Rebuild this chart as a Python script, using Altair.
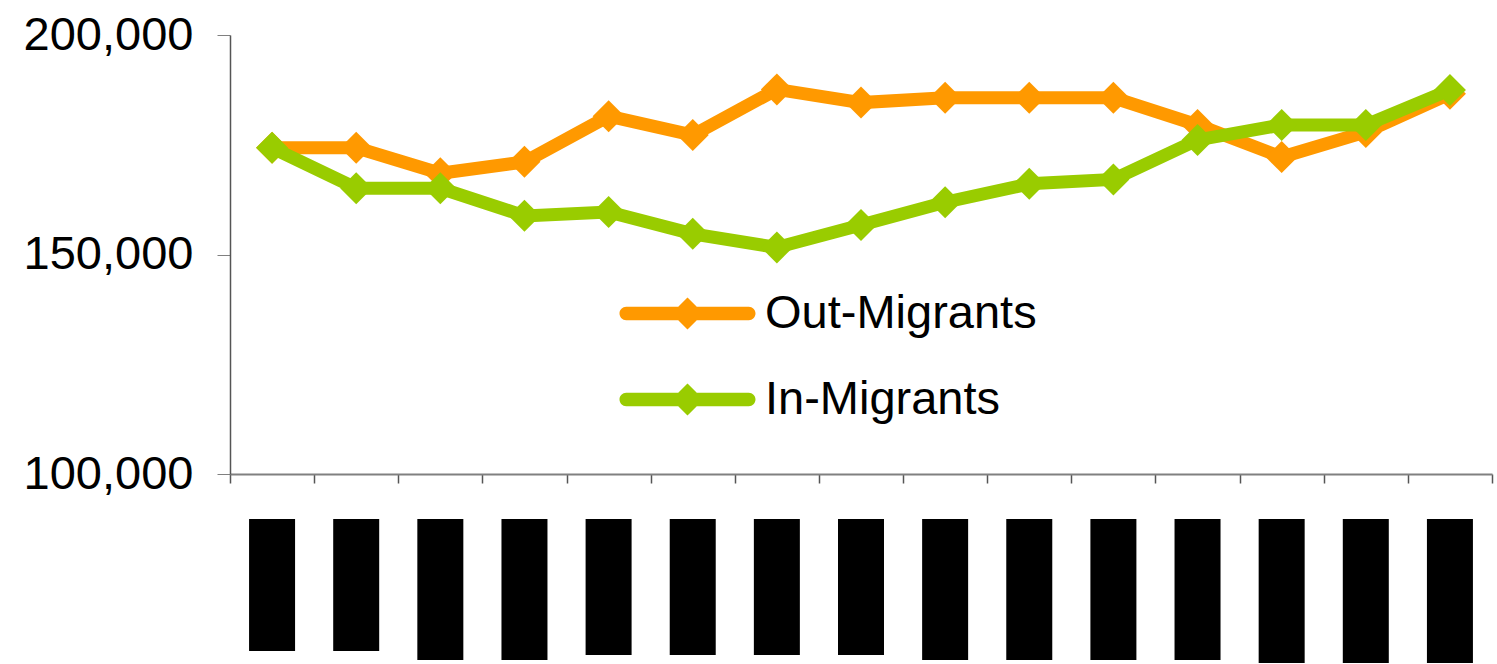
import altair as alt
import pandas as pd

# Migration totals per period (15 periods, oldest first)
periods = list(range(1, 16))
series_names = ["Out-Migrants", "In-Migrants"]
series_colors = ["#FF9900", "#99CC00"]
out_migrants = [174300, 174300, 168500, 171100, 181500, 177200, 187600, 184600,
                185700, 185700, 185700, 179500, 172200, 177900, 186600]
in_migrants = [174300, 165100, 165100, 158800, 159700, 154700, 151600, 156700,
               161900, 166100, 167100, 176100, 179500, 179500, 187500]
# lengths of the blacked-out period labels under the axis
label_block_len = [132, 132, 141, 141, 136, 136, 136, 136,
                   141, 141, 141, 141, 144, 144, 144]

rows = []
for name, vals in zip(series_names, [out_migrants, in_migrants]):
    for p, v in zip(periods, vals):
        rows.append({"period": p, "series": name, "people": v})
df = pd.DataFrame(rows)
blocks = pd.DataFrame({"period": periods, "block_len": label_block_len})

FONT = "Liberation Sans"

# legend swatch: thick round-capped line with a diamond in the middle
SWATCH = ("M-3.83,-0.42 L-0.58,-0.42 L0,-1 L0.58,-0.42 L3.83,-0.42 "
          "A0.42,0.42 0 0 1 3.83,0.42 L0.58,0.42 L0,1 L-0.58,0.42 "
          "L-3.83,0.42 A0.42,0.42 0 0 1 -3.83,-0.42 Z")

x_enc = alt.X(
    "period:O",
    scale=alt.Scale(type="band", paddingInner=0, paddingOuter=0),
    axis=alt.Axis(labels=False, title=None, tickBand="extent", tickSize=9,
                  domainColor="#808080", domainWidth=2, tickColor="#555555",
                  tickWidth=1.5, grid=False),
)
y_enc = alt.Y(
    "people:Q",
    scale=alt.Scale(domain=[100000, 200000], nice=False, zero=False),
    axis=alt.Axis(values=[100000, 150000, 200000], format=",d", title=None,
                  labelFontSize=47, labelFont=FONT, labelColor="black",
                  tickSize=13, tickColor="#808080", labelPadding=24,
                  domainColor="#555555", domainWidth=1.5, grid=False),
)
color_scale = alt.Scale(domain=series_names, range=series_colors)
legend = alt.Legend(
    title=None, orient="none", legendX=382, legendY=255, padding=0,
    symbolType=SWATCH, symbolSize=1024, symbolStrokeWidth=0,
    symbolOffset=52, labelOffset=54, labelFontSize=47, labelFont=FONT,
    labelColor="black", labelLimit=0, rowPadding=38, symbolOpacity=1,
)


def series_layers(name, color):
    base = alt.Chart(df).transform_filter(alt.datum.series == name)
    line = base.mark_line(strokeWidth=13, color=color).encode(x=x_enc, y=y_enc)
    pts = base.mark_point(shape="diamond", size=1024, filled=True, opacity=1).encode(
        x=x_enc, y=y_enc,
        color=alt.Color("series:N", scale=color_scale, legend=legend),
    )
    return [line, pts]


lines = alt.layer(
    *series_layers(series_names[0], series_colors[0]),
    *series_layers(series_names[1], series_colors[1]),
)

label_blocks = (
    alt.Chart(blocks)
    .mark_bar(width=46, color="black")
    .encode(
        x=x_enc,
        y=alt.Y("block_len:Q", axis=None,
                scale=alt.Scale(domain=[0, 100], range=[484, 584], zero=False, nice=False)),
        y2=alt.value(484),
    )
)

chart = (
    alt.layer(lines, label_blocks)
    .resolve_scale(y="independent")
    .properties(
        width=1262, height=439,
        autosize=alt.AutoSizeParams(type="none"),
        padding={"left": 230, "top": 35, "right": 5, "bottom": 190},
        background="white",
    )
    .configure_view(stroke=None)
)

chart.save("out.html", embed_options={"renderer": "svg", "actions": False})
